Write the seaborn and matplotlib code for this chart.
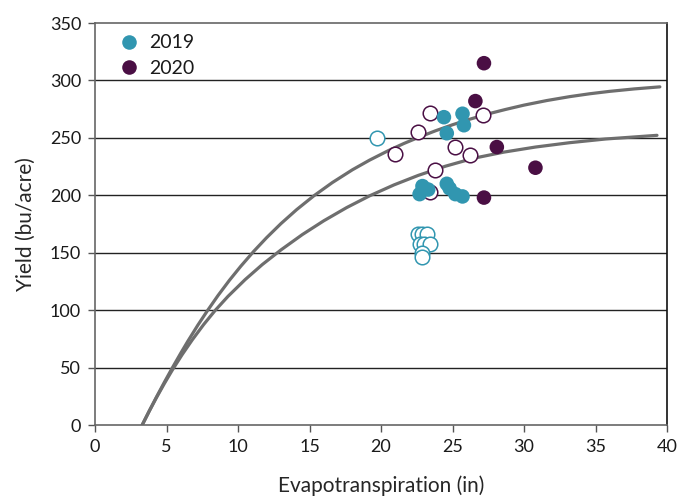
import matplotlib
matplotlib.use("Agg")
import matplotlib.pyplot as plt
import seaborn as sns
import pandas as pd

# puntos 2019 (relleno / hueco)
et_2019_filled = [24.4, 25.7, 25.8, 24.6, 22.7, 22.9, 23.3, 24.6, 24.8, 25.2, 25.7]
yld_2019_filled = [268, 271, 261, 254, 201, 208, 205, 210, 206, 201, 199]
et_2019_open = [19.7, 22.6, 22.9, 23.2, 22.7, 23.0, 23.4, 22.9, 22.9]
yld_2019_open = [250, 166, 166, 166, 158, 158, 158, 150, 146]

# puntos 2020
et_2020_filled = [27.2, 26.6, 28.1, 30.8, 27.2]
yld_2020_filled = [315, 282, 242, 224, 198]
et_2020_open = [23.4, 27.1, 22.6, 21.0, 25.2, 26.2, 23.8, 23.4]
yld_2020_open = [272, 270, 255, 236, 242, 235, 222, 203]

# curvas ajustadas
curva_sup_x = [3.3, 3.8, 4.3, 4.85, 5.4, 6.0, 6.5, 7.2, 7.85, 8.6, 9.4, 10.2, 11.1, 12.0,
               13.0, 14.1, 15.3, 16.6, 18.0, 19.2, 20.5, 21.6, 22.7, 23.8, 25.0, 26.2,
               27.5, 28.7, 30.0, 31.6, 33.2, 34.6, 36.0, 37.7, 39.5]
curva_sup_y = [0, 12.4, 24.4, 37.2, 49.6, 62.6, 73.1, 87.1, 99.3, 112.7, 126, 138.3, 151.2, 163.1,
               175.3, 187.5, 199.5, 211.1, 222.2, 230.6, 238.8, 245.1, 250.8, 256.1, 261.4, 266.2,
               270.9, 274.7, 278.5, 282.5, 285.9, 288.4, 290.5, 292.6, 294.4]
curva_inf_x = [3.3, 3.8, 4.3, 4.85, 5.4, 6.1, 6.8, 7.6, 8.4, 9.3, 10.5, 11.7, 13.0, 14.5,
               16.0, 17.6, 19.2, 20.9, 22.6, 24.5, 26.5, 28.6, 30.8, 33.2, 35.7, 39.3]
curva_inf_y = [0, 12.2, 23.9, 36.1, 47.7, 61.4, 74.1, 87.5, 99.7, 112, 126.6, 139.7, 152.4, 165.8,
               177.8, 189.3, 199.5, 209, 217.3, 225.3, 232.3, 237.6, 242, 245.8, 249, 252.2]

x_ticks = [0, 5, 10, 15, 20, 25, 30, 35, 40]
y_ticks = [0, 50, 100, 150, 200, 250, 300, 350]

teal = "#3196b0"
morado = "#4a0f44"
gris = "#6e6e6e"

sns.set_theme(style="white")
plt.rcParams["font.family"] = ["Lato", "DejaVu Sans"]
plt.rcParams["text.color"] = "#1a1a1a"
plt.rcParams["xtick.color"] = "#555555"
plt.rcParams["ytick.color"] = "#555555"
plt.rcParams["xtick.labelcolor"] = "#1a1a1a"
plt.rcParams["ytick.labelcolor"] = "#1a1a1a"

fig = plt.figure(figsize=(6.81, 4.96), dpi=100)
ax = fig.add_axes([95 / 681, 71 / 496, 572 / 681, 402 / 496])

for yv in y_ticks[1:-1]:
    ax.axhline(yv, color="#222222", lw=1.0, zorder=1)

sns.lineplot(x=curva_sup_x, y=curva_sup_y, ax=ax, color=gris, lw=2.3, sort=False, zorder=2)
sns.lineplot(x=curva_inf_x, y=curva_inf_y, ax=ax, color=gris, lw=2.3, sort=False, zorder=2)

sns.scatterplot(x=et_2019_open, y=yld_2019_open, ax=ax, s=110, facecolor="white",
                edgecolor=teal, linewidth=1.1, zorder=3)
sns.scatterplot(x=et_2020_open, y=yld_2020_open, ax=ax, s=110, facecolor="white",
                edgecolor=morado, linewidth=1.1, zorder=3)

df = pd.DataFrame({
    "et": et_2019_filled + et_2020_filled,
    "yield": yld_2019_filled + yld_2020_filled,
    "year": ["2019"] * len(et_2019_filled) + ["2020"] * len(et_2020_filled),
})
sns.scatterplot(data=df, x="et", y="yield", hue="year", palette=[teal, morado],
                s=110, linewidth=0, ax=ax, zorder=4)

ax.set_xlim(0, 40)
ax.set_ylim(0, 350)
ax.set_xticks(x_ticks)
ax.set_yticks(y_ticks)
ax.tick_params(axis="both", labelsize=13, length=5, width=1, direction="out",
               bottom=True, left=True, pad=5)
ax.set_xlabel("Evapotranspiration (in)", fontsize=15, labelpad=15)
ax.set_ylabel("Yield (bu/acre)", fontsize=15, labelpad=10)

for lado in ["left", "bottom", "top"]:
    ax.spines[lado].set_color("#666666")
    ax.spines[lado].set_linewidth(1.2)
ax.spines["right"].set_color("#111111")
ax.spines["right"].set_linewidth(1.2)

leg = ax.legend(loc="upper left", bbox_to_anchor=(-0.005, 1.015), frameon=False,
                fontsize=14, handletextpad=0.05, labelspacing=0.45, markerscale=1.0)

fig.savefig("out.png", dpi=100)
